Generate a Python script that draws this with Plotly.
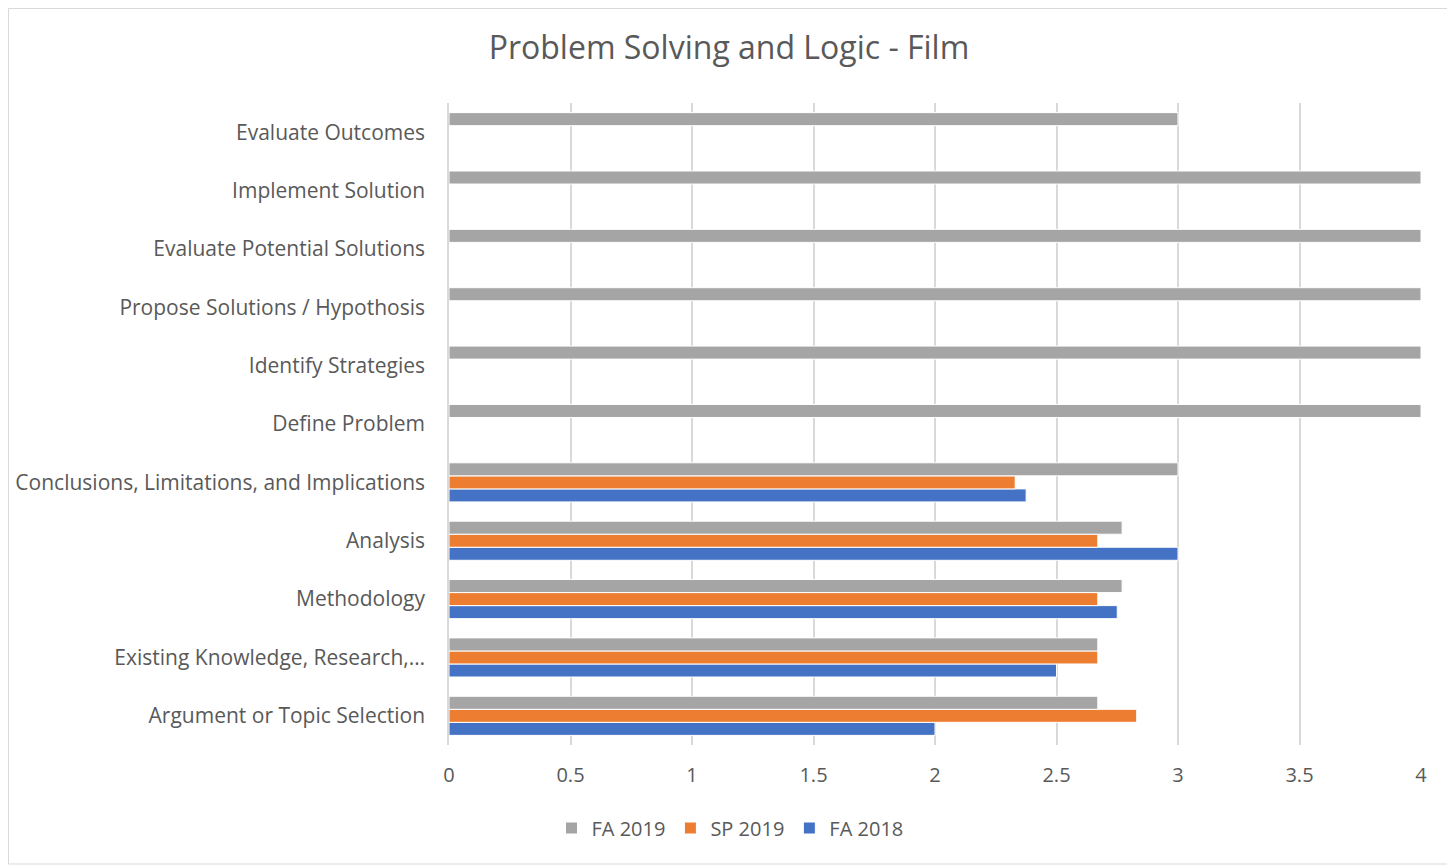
import plotly.graph_objects as go

categories = [
    "Argument or Topic Selection",
    "Existing Knowledge, Research,…",
    "Methodology",
    "Analysis",
    "Conclusions, Limitations, and Implications",
    "Define Problem",
    "Identify Strategies",
    "Propose Solutions / Hypothosis",
    "Evaluate Potential Solutions",
    "Implement Solution",
    "Evaluate Outcomes",
]
fa2019 = [2.67, 2.67, 2.77, 2.77, 3.0, 4.0, 4.0, 4.0, 4.0, 4.0, 3.0]
sp2019 = [2.83, 2.67, 2.67, 2.67, 2.33, None, None, None, None, None, None]
fa2018 = [2.0, 2.5, 2.75, 3.0, 2.375, None, None, None, None, None, None]

FONT = "Open Sans"
TXT = "#595959"

# page body has an 8px margin; figure is sized/placed to compensate
W, H = 1447, 859
L, R, T, B = 441, 34, 95, 122
PW, PH = W - L - R, H - T - B

fig = go.Figure()
for name, vals, col in [("FA 2018", fa2018, "#4472C4"),
                        ("SP 2019", sp2019, "#ED7D31"),
                        ("FA 2019", fa2019, "#A5A5A5")]:
    fig.add_trace(go.Bar(
        y=categories, x=vals, name=name, orientation="h",
        marker=dict(color=col, line=dict(color="white", width=1)),
    ))

fig.update_layout(
    width=W, height=H,
    paper_bgcolor="white", plot_bgcolor="white",
    margin=dict(l=L, r=R, t=T, b=B, autoexpand=False),
    barmode="group", bargap=0.33, bargroupgap=0,
    title=dict(text="Problem Solving and Logic - Film", x=(729 - 8) / W, xanchor="center",
               y=1 - 40 / H, yanchor="middle",
               font=dict(family=FONT, size=32, color=TXT)),
    font=dict(family=FONT, size=21, color=TXT),
    xaxis=dict(range=[0, 4], dtick=0.5, showgrid=True, gridcolor="#D9D9D9",
               gridwidth=1.5, zeroline=False, showline=False, automargin=False,
               ticks="outside", ticklen=12, tickcolor="white",
               tickfont=dict(family=FONT, size=20, color=TXT)),
    yaxis=dict(type="category", categoryorder="array", categoryarray=categories,
               showline=True, linecolor="#D9D9D9", linewidth=1.5, automargin=False,
               showgrid=False, ticks="outside", ticklen=18, tickcolor="white",
               tickfont=dict(family=FONT, size=21, color=TXT)),
    legend=dict(orientation="h", x=(730 - 8 - L) / PW, xanchor="center",
                y=(745 - 828) / PH, yanchor="middle",
                traceorder="reversed", font=dict(family=FONT, size=20, color=TXT),
                itemwidth=30),
    showlegend=True,
)

fig.add_shape(type="rect", xref="paper", yref="paper",
              x0=(0.5 - L) / PW, x1=(1444 - L) / PW,
              y0=(H - B - 856) / PH, y1=(H - B - 0.5) / PH,
              line=dict(color="#D9D9D9", width=1), fillcolor="rgba(0,0,0,0)",
              layer="below")

fig.write_html("out.html")
